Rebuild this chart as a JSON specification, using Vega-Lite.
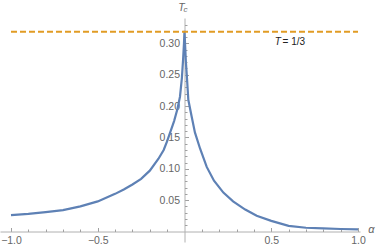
{
  "$schema": "https://vega.github.io/schema/vega-lite/v6.json",
  "autosize": "none",
  "width": 360,
  "height": 224,
  "padding": {"left": 0, "top": 18, "right": 22, "bottom": 7},
  "background": "white",
  "config": {
    "view": {"stroke": null},
    "axis": {"grid": false, "labelFont": "Liberation Sans", "titleFont": "Liberation Sans", "labelColor": "#666666", "domainColor": "#b0b0b0", "tickColor": "#a0a0a0", "labelFontSize": 10.5, "labelOverlap": false, "labelFlush": false}
  },
  "datasets": {
    "curve": [
      {"alpha": -1.0, "T": 0.026},
      {"alpha": -0.9, "T": 0.028},
      {"alpha": -0.8, "T": 0.031},
      {"alpha": -0.7, "T": 0.034},
      {"alpha": -0.6, "T": 0.040},
      {"alpha": -0.5, "T": 0.048},
      {"alpha": -0.4, "T": 0.060},
      {"alpha": -0.35, "T": 0.067},
      {"alpha": -0.3, "T": 0.075},
      {"alpha": -0.25, "T": 0.084},
      {"alpha": -0.2, "T": 0.097},
      {"alpha": -0.15, "T": 0.116},
      {"alpha": -0.12, "T": 0.130},
      {"alpha": -0.1, "T": 0.144},
      {"alpha": -0.08, "T": 0.160},
      {"alpha": -0.06, "T": 0.176},
      {"alpha": -0.04, "T": 0.196},
      {"alpha": -0.026, "T": 0.215},
      {"alpha": -0.015, "T": 0.245},
      {"alpha": -0.008, "T": 0.275},
      {"alpha": -0.003, "T": 0.30},
      {"alpha": 0.0, "T": 0.32},
      {"alpha": 0.003, "T": 0.30},
      {"alpha": 0.008, "T": 0.27},
      {"alpha": 0.013, "T": 0.25},
      {"alpha": 0.022, "T": 0.21},
      {"alpha": 0.04, "T": 0.185},
      {"alpha": 0.06, "T": 0.158},
      {"alpha": 0.09, "T": 0.132},
      {"alpha": 0.128, "T": 0.103},
      {"alpha": 0.17, "T": 0.081},
      {"alpha": 0.224, "T": 0.062},
      {"alpha": 0.28, "T": 0.048},
      {"alpha": 0.35, "T": 0.035},
      {"alpha": 0.416, "T": 0.025},
      {"alpha": 0.5, "T": 0.017},
      {"alpha": 0.6, "T": 0.009},
      {"alpha": 0.7, "T": 0.006},
      {"alpha": 0.8, "T": 0.005},
      {"alpha": 0.9, "T": 0.004},
      {"alpha": 1.0, "T": 0.0035}
    ],
    "ref": [{"alpha": -1.0, "alpha2": 1.0, "T": 0.3185}],
    "tcMain": [{"alpha": -0.017, "T": 0.357, "label": "T"}],
    "tcSub": [{"alpha": 0.006, "T": 0.353, "label": "c"}],
    "refT": [{"alpha": 0.555, "T": 0.302, "label": "T"}],
    "refEq": [{"alpha": 0.565, "T": 0.302, "label": "= 1/3"}]
  },
  "layer": [
    {
      "data": {"name": "curve"},
      "mark": {"type": "line", "color": "#5E81B5", "strokeWidth": 2.2, "interpolate": "linear"},
      "encoding": {
        "x": {"field": "alpha", "type": "quantitative", "scale": {"domain": [-1.0634, 1.0115], "nice": false, "zero": false},
          "axis": {"orient": "bottom", "offset": -10.5,
            "values": [-1, -0.5, 0.5, 1], "format": ".1f",
            "tickSize": -4, "labelPadding": 8,
            "title": "α", "titleFontStyle": "italic", "titleFontWeight": "normal", "titleColor": "#666666", "titleFontSize": 11, "titleX": 371, "titleY": -2, "titleBaseline": "middle", "titleAlign": "center"}},
        "y": {"field": "T", "type": "quantitative", "scale": {"domain": [-0.01674, 0.3404], "nice": false, "zero": false},
          "axis": {"orient": "left", "offset": -184.5,
            "values": [0.05, 0.1, 0.15, 0.2, 0.25, 0.3], "format": ".2f",
            "tickSize": -4, "labelPadding": 9, "title": null}}
      }
    },
    {
      "data": {"name": "ref"},
      "mark": {"type": "rule", "color": "#E19C24", "strokeWidth": 1.8, "strokeDash": [6, 3]},
      "encoding": {
        "x": {"field": "alpha", "type": "quantitative",
          "axis": {"orient": "bottom", "offset": -10.5, "values": [-0.9, -0.8, -0.7, -0.6, -0.4, -0.3, -0.2, -0.1, 0.1, 0.2, 0.3, 0.4, 0.6, 0.7, 0.8, 0.9], "labels": false, "domain": false, "tickSize": -2.5, "title": null}},
        "x2": {"field": "alpha2"},
        "y": {"field": "T", "type": "quantitative",
          "axis": {"orient": "left", "offset": -184.5, "values": [0.01, 0.02, 0.03, 0.04, 0.06, 0.07, 0.08, 0.09, 0.11, 0.12, 0.13, 0.14, 0.16, 0.17, 0.18, 0.19, 0.21, 0.22, 0.23, 0.24, 0.26, 0.27, 0.28, 0.29, 0.31, 0.32, 0.33], "labels": false, "domain": false, "tickSize": -2.5, "title": null}}
      }
    },
    {
      "data": {"name": "tcMain"},
      "mark": {"type": "text", "fontStyle": "italic", "font": "Liberation Sans", "fontSize": 10.5, "color": "#666666", "align": "center", "baseline": "middle"},
      "encoding": {"x": {"field": "alpha", "type": "quantitative", "axis": null}, "y": {"field": "T", "type": "quantitative", "axis": null}, "text": {"field": "label"}}
    },
    {
      "data": {"name": "tcSub"},
      "mark": {"type": "text", "fontStyle": "italic", "font": "Liberation Sans", "fontSize": 8, "color": "#666666", "align": "center", "baseline": "middle"},
      "encoding": {"x": {"field": "alpha", "type": "quantitative", "axis": null}, "y": {"field": "T", "type": "quantitative", "axis": null}, "text": {"field": "label"}}
    },
    {
      "data": {"name": "refT"},
      "mark": {"type": "text", "fontStyle": "italic", "font": "Liberation Sans", "fontSize": 10, "color": "#222222", "align": "right", "baseline": "middle"},
      "encoding": {"x": {"field": "alpha", "type": "quantitative", "axis": null}, "y": {"field": "T", "type": "quantitative", "axis": null}, "text": {"field": "label"}}
    },
    {
      "data": {"name": "refEq"},
      "mark": {"type": "text", "font": "Liberation Sans", "fontSize": 10, "color": "#222222", "align": "left", "baseline": "middle"},
      "encoding": {"x": {"field": "alpha", "type": "quantitative", "axis": null}, "y": {"field": "T", "type": "quantitative", "axis": null}, "text": {"field": "label"}}
    }
  ],
  "resolve": {"axis": {"x": "independent", "y": "independent"}}
}
